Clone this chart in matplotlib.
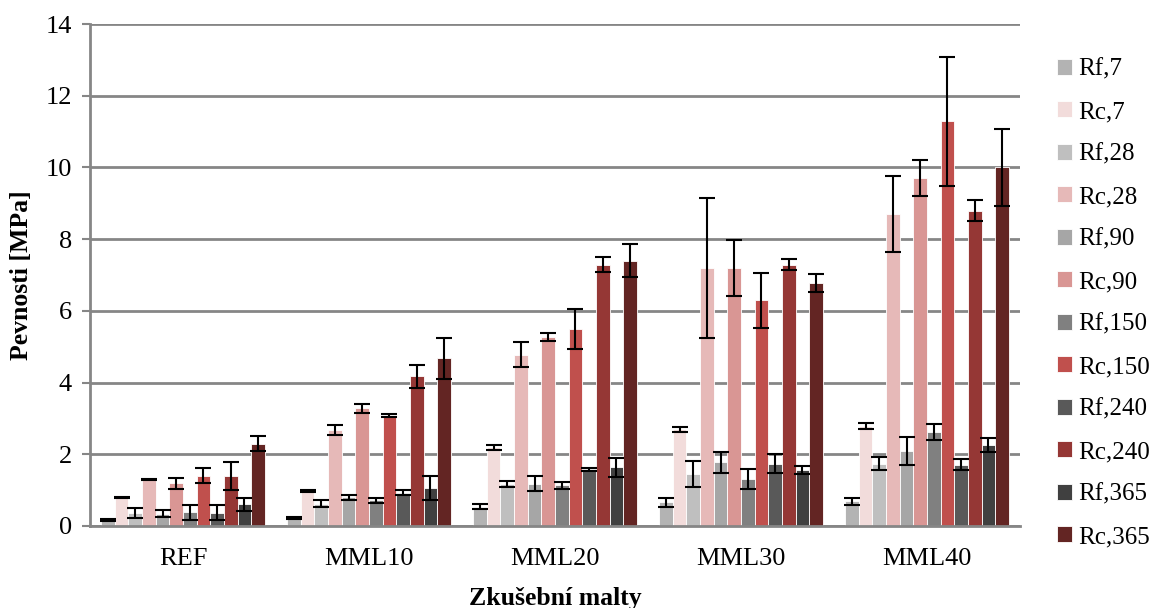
import numpy as np
import matplotlib.pyplot as plt

plt.rcParams['font.family'] = ['Liberation Serif', 'DejaVu Serif']

groups = ['REF', 'MML10', 'MML20', 'MML30', 'MML40']
series = ['Rf,7', 'Rc,7', 'Rf,28', 'Rc,28', 'Rf,90', 'Rc,90',
          'Rf,150', 'Rc,150', 'Rf,240', 'Rc,240', 'Rf,365', 'Rc,365']
colors = ['#b3b3b3', '#f2dcdb', '#bfbfbf', '#e6b9b8', '#a6a6a6', '#d99694',
          '#808080', '#c0504d', '#595959', '#953735', '#404040', '#632523']

# values per series, one per group (REF, MML10, MML20, MML30, MML40)
values = [
    [0.16, 0.23, 0.54, 0.66, 0.69],   # Rf,7
    [0.80, 0.98, 2.19, 2.70, 2.79],   # Rc,7
    [0.36, 0.62, 1.16, 1.44, 1.74],   # Rf,28
    [1.30, 2.68, 4.78, 7.19, 8.70],   # Rc,28
    [0.34, 0.80, 1.18, 1.77, 2.09],   # Rf,90
    [1.19, 3.28, 5.27, 7.19, 9.70],   # Rc,90
    [0.38, 0.71, 1.13, 1.31, 2.61],   # Rf,150
    [1.40, 3.08, 5.49, 6.29, 11.29],  # Rc,150
    [0.37, 0.93, 1.58, 1.74, 1.71],   # Rf,240
    [1.40, 4.18, 7.29, 7.29, 8.79],   # Rc,240
    [0.60, 1.06, 1.63, 1.57, 2.25],   # Rf,365
    [2.29, 4.68, 7.39, 6.78, 10.00],  # Rc,365
]
errors = [
    [0.02, 0.03, 0.07, 0.12, 0.10],
    [0.02, 0.02, 0.07, 0.07, 0.08],
    [0.15, 0.10, 0.08, 0.36, 0.17],
    [0.02, 0.14, 0.36, 1.95, 1.07],
    [0.10, 0.07, 0.20, 0.29, 0.40],
    [0.16, 0.13, 0.10, 0.79, 0.51],
    [0.21, 0.06, 0.10, 0.28, 0.22],
    [0.21, 0.03, 0.55, 0.77, 1.80],
    [0.20, 0.08, 0.04, 0.26, 0.15],
    [0.39, 0.32, 0.20, 0.16, 0.29],
    [0.18, 0.33, 0.27, 0.11, 0.19],
    [0.21, 0.57, 0.46, 0.26, 1.07],
]

fig = plt.figure(figsize=(11.57, 6.08), dpi=100)
ax = fig.add_axes([0.0778, 0.135, 0.8038, 0.8255])

x = np.arange(len(groups))
n = len(series)
w = 0.88 / n
for i in range(n):
    pos = x - 0.44 + w * (i + 0.5)
    ax.bar(pos, values[i], w, color=colors[i], edgecolor='white', linewidth=0.6,
           label=series[i], zorder=2)
    ax.errorbar(pos, values[i], yerr=errors[i], fmt='none', ecolor='black',
                elinewidth=1.5, capsize=5.5, capthick=1.5, zorder=3)

ax.set_xlim(-0.5, len(groups) - 0.5)
ax.set_ylim(0, 14)
ax.set_yticks(range(0, 15, 2))
ax.set_xticks(x)
ax.set_xticklabels(groups)
ax.tick_params(axis='x', length=0, pad=16, labelsize=19)
ax.tick_params(axis='y', length=6, width=1.5, color='#868686', pad=7, labelsize=19)
ax.yaxis.grid(True, color='#868686', linewidth=2, zorder=0)
ax.set_axisbelow(True)
for s in ['top', 'right']:
    ax.spines[s].set_visible(False)
for s in ['left', 'bottom']:
    ax.spines[s].set_color('#868686')
    ax.spines[s].set_linewidth(2)

ax.set_ylabel('Pevnosti [MPa]', fontsize=18.5, fontweight='bold', labelpad=9)
ax.set_xlabel('Zkušební malty', fontsize=18.5, fontweight='bold', labelpad=12)

fig.legend(loc='upper left', bbox_to_anchor=(0.905, 0.92), frameon=False,
           fontsize=18, handlelength=0.6, handleheight=0.6, handletextpad=0.25,
           labelspacing=0.82, borderaxespad=0)

plt.savefig('out.png', dpi=100)
